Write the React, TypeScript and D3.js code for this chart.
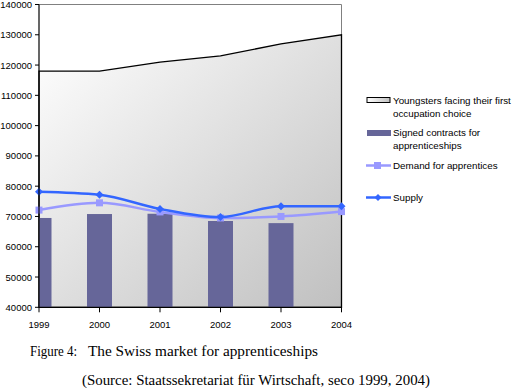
import React from "react";
import * as d3 from "d3";

const years = [1999, 2000, 2001, 2002, 2003, 2004];
const youngsters = [118000, 118000, 121000, 123000, 127000, 130000];
const contracts = [69500, 70800, 70900, 68500, 67800];
const demand = [72100, 74500, 71500, 69500, 70000, 71600];
const supply = [78200, 77200, 72500, 69800, 73400, 73400];
const yTicks = [40000, 50000, 60000, 70000, 80000, 90000, 100000, 110000, 120000, 130000, 140000];

const W = 515, H = 388;
const L = 39, R = 341.5, T = 4.5, B = 307.3;

export default function App() {
  const x = d3.scaleLinear().domain([1999, 2004]).range([L, R]);
  const y = d3.scaleLinear().domain([40000, 140000]).range([B, T]);

  const area = d3.area<number>()
    .x((_, i) => x(years[i]))
    .y0(y(40000))
    .y1((d) => y(d));
  const line = d3.line<number>()
    .x((_, i) => x(years[i]))
    .y((d) => y(d))
    .curve(d3.curveMonotoneX);

  const chartFont = "'Liberation Sans', Arial, sans-serif";
  const serif = "'Liberation Serif', 'Times New Roman', serif";
  const barW = 25;

  return (
    <svg width={W} height={H} style={{ position: "absolute", left: 0, top: 0 }}>
      <defs>
        <linearGradient id="ag" x1="0" y1="0" x2="1" y2="1">
          <stop offset="0" stopColor="#ffffff" />
          <stop offset="1" stopColor="#c0c0c0" />
        </linearGradient>
        <linearGradient id="lg" x1="0" y1="0" x2="1" y2="0">
          <stop offset="0" stopColor="#ffffff" />
          <stop offset="1" stopColor="#c0c0c0" />
        </linearGradient>
        <clipPath id="pc">
          <rect x={L} y={T} width={R - L} height={B - T} />
        </clipPath>
      </defs>
      <rect x={0} y={0} width={W} height={H} fill="#ffffff" />
      {/* plot border */}
      <path d={`M${L},${T}H${R}V${B}`} fill="none" stroke="#808080" strokeWidth={1} />
      {/* area */}
      <path d={area(youngsters) || ""} fill="url(#ag)" stroke="#000" strokeWidth={1.3} />
      {/* bars */}
      <g clipPath="url(#pc)">
        {contracts.map((v, i) => (
          <rect key={i} x={x(years[i]) - barW / 2} y={y(v)} width={barW} height={y(40000) - y(v)} fill="#666699" />
        ))}
      </g>
      {/* demand */}
      <path d={line(demand) || ""} fill="none" stroke="#9999ff" strokeWidth={2.5} />
      {demand.map((v, i) => (
        <rect key={i} x={x(years[i]) - 3.5} y={y(v) - 3.5} width={7} height={7} fill="#9999ff" />
      ))}
      {/* supply */}
      <path d={line(supply) || ""} fill="none" stroke="#3366ff" strokeWidth={2.5} />
      {supply.map((v, i) => {
        const cx = x(years[i]), cy = y(v);
        return <path key={i} d={`M${cx},${cy - 4}L${cx + 4},${cy}L${cx},${cy + 4}L${cx - 4},${cy}Z`} fill="#3366ff" />;
      })}
      {/* axes */}
      <line x1={L} y1={T} x2={L} y2={B} stroke="#000" strokeWidth={1.2} />
      <line x1={L} y1={B} x2={R} y2={B} stroke="#000" strokeWidth={1.2} />
      {yTicks.map((t) => (
        <g key={t}>
          <line x1={L - 4} x2={L} y1={y(t)} y2={y(t)} stroke="#000" />
          <text x={32} y={y(t) + 3.5} textAnchor="end" fontFamily={chartFont} fontSize={9.5} fill="#000">{t}</text>
        </g>
      ))}
      {years.map((yr) => (
        <g key={yr}>
          <line x1={x(yr)} x2={x(yr)} y1={B} y2={B + 5} stroke="#000" />
          <text x={x(yr)} y={327.5} textAnchor="middle" fontFamily={chartFont} fontSize={9.5} fill="#000">{yr}</text>
        </g>
      ))}
      {/* legend */}
      <g fontFamily={chartFont} fontSize={9.8} fill="#000">
        <rect x={367} y={97.5} width={23} height={5} fill="url(#lg)" stroke="#000" strokeWidth={1} />
        <text x={393} y={104}>Youngsters facing their first</text>
        <text x={393} y={117}>occupation choice</text>
        <rect x={367} y={130} width={24} height={6} fill="#666699" />
        <text x={393} y={136}>Signed contracts for</text>
        <text x={393} y={149}>apprenticeships</text>
        <line x1={366} x2={391} y1={165.5} y2={165.5} stroke="#9999ff" strokeWidth={2.5} />
        <rect x={374} y={162} width={7} height={7} fill="#9999ff" />
        <text x={393} y={168.5}>Demand for apprentices</text>
        <line x1={366} x2={391} y1={197.5} y2={197.5} stroke="#3366ff" strokeWidth={2.5} />
        <path d="M378,194L381.5,197.5L378,201L374.5,197.5Z" fill="#3366ff" />
        <text x={393} y={201}>Supply</text>
      </g>
      {/* caption */}
      <g fontFamily={serif} fontSize={14} fill="#000">
        <text x={30} y={356} textLength={47} lengthAdjust="spacingAndGlyphs">Figure 4:</text>
        <text x={88} y={356} textLength={230} lengthAdjust="spacingAndGlyphs">The Swiss market for apprenticeships</text>
        <text x={82} y={385} textLength={348} lengthAdjust="spacingAndGlyphs">(Source: Staatssekretariat für Wirtschaft, seco 1999, 2004)</text>
      </g>
    </svg>
  );
}
